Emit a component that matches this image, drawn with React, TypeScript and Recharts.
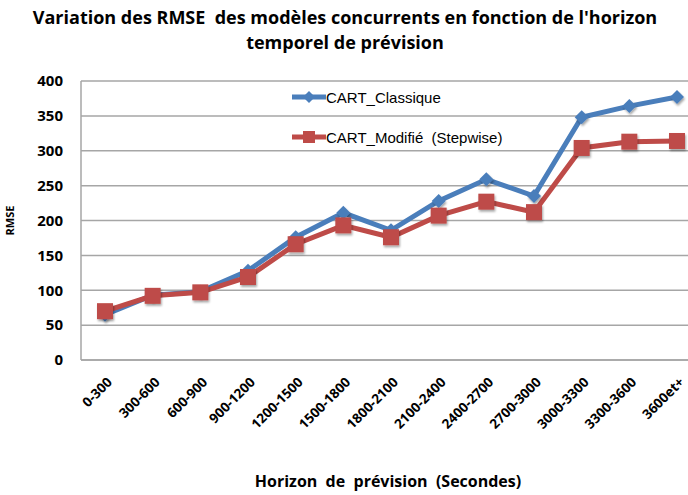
import { LineChart, Line, XAxis, YAxis, CartesianGrid, Label } from 'recharts'

const horizons = [
  '0-300', '300-600', '600-900', '900-1200', '1200-1500', '1500-1800', '1800-2100',
  '2100-2400', '2400-2700', '2700-3000', '3000-3300', '3300-3600', '3600et+',
]
const cartClassique = [65, 93, 98, 128, 176, 211, 186, 228, 259, 235, 348, 364, 377]
const cartModifie = [70, 92, 97, 119, 166, 193, 176, 207, 227, 212, 304, 313, 314]
const yTicks = [0, 50, 100, 150, 200, 250, 300, 350, 400]

const BLUE = '#4a7ebb'
const RED = '#be4b48'
const FONT = '"Open Sans", "Liberation Sans", sans-serif'

const data = horizons.map((h, i) => ({ h, classique: cartClassique[i], modifie: cartModifie[i] }))

function Diamond({ cx, cy }: any) {
  if (cx == null || cy == null) return null
  const r = 7
  return <polygon points={`${cx},${cy - r} ${cx + r},${cy} ${cx},${cy + r} ${cx - r},${cy}`} fill={BLUE} filter="url(#shadow)" />
}

function Square({ cx, cy }: any) {
  if (cx == null || cy == null) return null
  const s = 8
  return <rect x={cx - s} y={cy - s} width={s * 2} height={s * 2} fill={RED} filter="url(#shadow)" />
}

function XTick({ x, y, payload }: any) {
  return (
    <text x={x + 8} y={y + 15} transform={`rotate(-45 ${x + 8} ${y + 15})`} textAnchor="end"
      fontFamily={FONT} fontWeight={700} fontSize={13.5} fill="#000">
      {payload.value}
    </text>
  )
}

function LegendBox() {
  const row = (color: string, label: string, square: boolean) => (
    <div style={{ display: 'flex', alignItems: 'center', height: 40 }}>
      <svg width={34} height={16}>
        <line x1={0} y1={8} x2={34} y2={8} stroke={color} strokeWidth={5} />
        {square
          ? <rect x={11} y={2} width={12} height={12} fill={color} />
          : <polygon points="17,2 23,8 17,14 11,8" fill={color} />}
      </svg>
      <span style={{ fontFamily: '"Liberation Sans", Arial, sans-serif', fontSize: 15, color: '#000', whiteSpace: 'pre' }}>{label}</span>
    </div>
  )
  return (
    <div style={{ position: 'absolute', left: 292, top: 77 }}>
      {row(BLUE, 'CART_Classique', false)}
      {row(RED, 'CART_Modifié  (Stepwise)', true)}
    </div>
  )
}

export default function App() {
  return (
    <div style={{ position: 'absolute', left: 0, top: 0, width: 688, height: 495, overflow: 'hidden', background: '#fff' }}>
      <div style={{
        position: 'absolute', left: 0, top: 5, width: 690, textAlign: 'center',
        fontFamily: FONT, fontWeight: 700, fontSize: 18, lineHeight: '25px', color: '#000', whiteSpace: 'pre',
      }}>
        {"Variation des RMSE  des modèles concurrents en fonction de l'horizon\ntemporel de prévision"}
      </div>
      <div style={{ position: 'absolute', left: 0, top: 0 }}>
        <LineChart width={701} height={495} data={data} margin={{ top: 81, right: 0, bottom: 0, left: 0 }}>
          <defs>
            <filter id="shadow" x="-50%" y="-50%" width="200%" height="200%">
              <feDropShadow dx="1" dy="2" stdDeviation="1.2" floodColor="#000" floodOpacity="0.35" />
            </filter>
          </defs>
          <CartesianGrid stroke="#a6a6a6" strokeWidth={1.5} vertical={false} />
          <XAxis dataKey="h" height={135} tick={<XTick />} interval={0} padding={{ left: 24, right: 24 }}
            axisLine={{ stroke: '#a6a6a6', strokeWidth: 1.5 }} tickLine={false}>
            <Label value={'Horizon\u00a0 de\u00a0 prévision\u00a0 (Secondes)'} position="insideBottom" offset={8}
              style={{ fontFamily: FONT, fontWeight: 700, fontSize: 16, fill: '#000' }} dx={-3} />
          </XAxis>
          <YAxis domain={[0, 400]} ticks={yTicks} width={81} tickLine={false}
            axisLine={{ stroke: '#a6a6a6', strokeWidth: 1.5 }}
            tick={{ fontFamily: FONT, fontWeight: 700, fontSize: 15, fill: '#000' }} tickMargin={12}>
            <Label value="RMSE" angle={-90} position="insideLeft" offset={10}
              style={{ fontFamily: FONT, fontWeight: 700, fontSize: 11, fill: '#000', textAnchor: 'middle' }} />
          </YAxis>
          <Line dataKey="classique" stroke={BLUE} strokeWidth={5} dot={<Diamond />} activeDot={false} isAnimationActive={false} />
          <Line dataKey="modifie" stroke={RED} strokeWidth={5} dot={<Square />} activeDot={false} isAnimationActive={false} />
        </LineChart>
      </div>
      <LegendBox />
    </div>
  )
}
